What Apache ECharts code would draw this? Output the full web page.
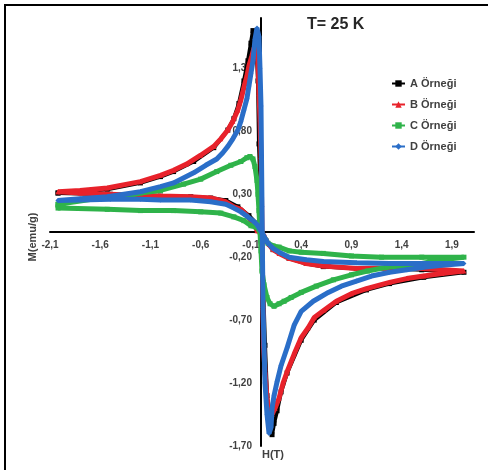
<!DOCTYPE html>
<html><head><meta charset="utf-8">
<script src="https://cdn.jsdelivr.net/npm/echarts@6/dist/echarts.min.js"></script>
<style>html,body{margin:0;padding:0;background:#fff}#c{width:488px;height:470px}</style>
</head><body><div id="c"></div>
<script>
var xTicks = [-2.1,-1.6,-1.1,-0.6,-0.1,0.4,0.9,1.4,1.9];
var yTicks = [-1.7,-1.2,-0.7,-0.2,0.3,0.8,1.3];
var seriesNames = ['A Örneği','B Örneği','C Örneği','D Örneği'];

var sampleA = [[-2.02,0.31],[-1.8,0.32],[-1.53,0.34],[-1.2,0.39],[-1.0,0.44],[-0.87,0.48],[-0.67,0.56],[-0.47,0.67],[-0.33,0.81],[-0.27,0.9],[-0.22,1.02],[-0.17,1.2],[-0.13,1.36],[-0.1,1.5],[-0.08,1.6],[-0.05,1.58],[-0.03,1.2],[-0.02,0.7],[0.0,0.2],[0.02,-0.4],[0.04,-0.9],[0.06,-1.3],[0.09,-1.55],[0.11,-1.61],[0.13,-1.52],[0.16,-1.42],[0.2,-1.27],[0.26,-1.12],[0.4,-0.86],[0.53,-0.7],[0.75,-0.56],[1.05,-0.46],[1.28,-0.41],[1.62,-0.36],[2.02,-0.32],[1.6,-0.3],[1.3,-0.29],[0.95,-0.29],[0.62,-0.275],[0.45,-0.25],[0.28,-0.21],[0.12,-0.14],[0.05,-0.07],[0.0,0.0],[-0.05,0.07],[-0.12,0.13],[-0.23,0.2],[-0.35,0.25],[-0.5,0.27],[-0.7,0.28],[-1.0,0.285],[-1.5,0.3],[-2.02,0.31]];

var sampleB = [[-2.02,0.32],[-1.8,0.33],[-1.53,0.35],[-1.2,0.4],[-1.0,0.45],[-0.87,0.49],[-0.74,0.54],[-0.6,0.61],[-0.47,0.68],[-0.4,0.74],[-0.33,0.81],[-0.28,0.88],[-0.23,0.97],[-0.2,1.05],[-0.17,1.15],[-0.14,1.24],[-0.12,1.32],[-0.09,1.4],[-0.07,1.46],[-0.05,1.47],[-0.03,1.35],[-0.02,1.1],[-0.01,0.9],[0.0,0.6],[0.005,0.3],[0.01,0.0],[0.015,-0.3],[0.02,-0.6],[0.025,-0.9],[0.04,-1.11],[0.06,-1.32],[0.08,-1.43],[0.11,-1.45],[0.14,-1.4],[0.18,-1.32],[0.22,-1.2],[0.26,-1.11],[0.33,-0.97],[0.4,-0.84],[0.47,-0.76],[0.53,-0.68],[0.63,-0.62],[0.75,-0.55],[0.9,-0.49],[1.05,-0.45],[1.28,-0.4],[1.45,-0.37],[1.62,-0.35],[1.8,-0.33],[2.02,-0.31],[1.6,-0.29],[1.3,-0.285],[0.95,-0.29],[0.62,-0.27],[0.45,-0.25],[0.28,-0.21],[0.18,-0.17],[0.12,-0.14],[0.08,-0.1],[0.05,-0.07],[0.03,-0.03],[0.0,0.0],[-0.04,0.01],[-0.06,0.06],[-0.1,0.09],[-0.15,0.14],[-0.2,0.18],[-0.27,0.2],[-0.35,0.24],[-0.5,0.27],[-0.7,0.28],[-1.0,0.285],[-1.2,0.29],[-1.5,0.3],[-1.8,0.31],[-2.02,0.32]];

var sampleC = [[-2.02,0.22],[-1.6,0.27],[-1.37,0.28],[-1.2,0.31],[-1.0,0.33],[-0.77,0.38],[-0.6,0.42],[-0.44,0.48],[-0.3,0.53],[-0.2,0.56],[-0.14,0.59],[-0.11,0.6],[-0.08,0.58],[-0.06,0.52],[-0.04,0.41],[-0.03,0.3],[-0.02,0.17],[-0.01,0.0],[0.0,-0.15],[0.01,-0.31],[0.03,-0.42],[0.06,-0.52],[0.09,-0.57],[0.13,-0.59],[0.18,-0.57],[0.23,-0.55],[0.3,-0.52],[0.4,-0.48],[0.55,-0.43],[0.72,-0.38],[0.9,-0.34],[1.06,-0.31],[1.25,-0.28],[1.4,-0.27],[1.6,-0.25],[1.8,-0.22],[2.02,-0.2],[1.6,-0.2],[1.2,-0.2],[0.9,-0.19],[0.62,-0.17],[0.4,-0.16],[0.28,-0.15],[0.18,-0.12],[0.12,-0.11],[0.07,-0.09],[0.04,-0.06],[0.01,-0.02],[-0.02,0.02],[-0.05,0.04],[-0.1,0.05],[-0.17,0.09],[-0.27,0.12],[-0.4,0.15],[-0.6,0.16],[-0.87,0.17],[-1.2,0.17],[-1.53,0.18],[-2.02,0.19],[-2.02,0.22]];

var sampleD = [[-2.02,0.25],[-1.8,0.265],[-1.53,0.28],[-1.2,0.32],[-1.0,0.36],[-0.87,0.39],[-0.67,0.47],[-0.55,0.53],[-0.44,0.58],[-0.38,0.63],[-0.33,0.68],[-0.28,0.74],[-0.23,0.81],[-0.2,0.88],[-0.17,0.97],[-0.14,1.06],[-0.12,1.16],[-0.1,1.26],[-0.08,1.36],[-0.06,1.53],[-0.04,1.62],[-0.02,1.55],[-0.01,1.3],[0.0,1.0],[0.005,0.6],[0.01,0.2],[0.015,-0.2],[0.02,-0.6],[0.03,-0.9],[0.04,-1.2],[0.06,-1.45],[0.08,-1.6],[0.1,-1.55],[0.11,-1.4],[0.13,-1.3],[0.16,-1.19],[0.2,-1.06],[0.26,-0.92],[0.33,-0.74],[0.4,-0.63],[0.52,-0.55],[0.67,-0.48],[0.8,-0.43],[0.95,-0.39],[1.1,-0.35],[1.28,-0.32],[1.45,-0.3],[1.62,-0.28],[1.8,-0.265],[2.02,-0.25],[1.6,-0.25],[1.28,-0.25],[0.95,-0.245],[0.62,-0.235],[0.45,-0.22],[0.28,-0.2],[0.18,-0.16],[0.12,-0.13],[0.07,-0.09],[0.04,-0.05],[0.02,-0.02],[-0.01,0.02],[-0.04,0.06],[-0.08,0.09],[-0.13,0.12],[-0.2,0.16],[-0.27,0.19],[-0.35,0.22],[-0.5,0.24],[-0.7,0.255],[-1.0,0.255],[-1.2,0.26],[-1.5,0.26],[-1.8,0.255],[-2.02,0.25]];

var colors = ['#000000','#e8222b','#2fb34a','#2a6ec8'];
var symbols = ['rect','triangle','rect','diamond'];
var datas = [sampleA, sampleB, sampleC, sampleD];

var X_MIN = -2.1, X_MAX = 2.12, Y_MIN = -1.7, Y_MAX = 1.7;
var G = {left:50, right:14, top:18, bottom:24};
var W = 488, H = 470;
var gw = W - G.left - G.right, gh = H - G.top - G.bottom;
// axes drawn through the origin: shift them by the pixel distance of value 0 from the grid edge
var yAxisOffset = -((0 - X_MIN) / (X_MAX - X_MIN) * gw);
var xAxisOffset = -((0 - Y_MIN) / (Y_MAX - Y_MIN) * gh);

function fmt(d){ return function(v){ return Number(v).toFixed(d).replace('.', ','); }; }

var chart = echarts.init(document.getElementById('c'), null, {renderer:'canvas'});
var labelStyle = {fontFamily:'Liberation Sans, Arial, sans-serif', fontSize:10, fontWeight:'bold', color:'#404040'};
chart.setOption({
  animation:false,
  backgroundColor:'#ffffff',
  grid:{left:G.left, right:G.right, top:G.top, bottom:G.bottom, containLabel:false},
  legend:{
    orient:'vertical', left:391, top:78, padding:0, itemWidth:13, itemHeight:8, itemGap:10,
    data:seriesNames,
    textStyle:{fontFamily:'Liberation Sans, Arial, sans-serif', fontSize:11, fontWeight:'bold', color:'#404040'}
  },
  xAxis:{
    type:'value', min:X_MIN, max:X_MAX, position:'bottom', offset:xAxisOffset,
    axisLine:{onZero:false, lineStyle:{color:'#000', width:2}},
    axisTick:{show:false}, splitLine:{show:false},
    axisLabel:Object.assign({customValues:xTicks, formatter:fmt(1), margin:8}, labelStyle)
  },
  yAxis:{
    type:'value', min:Y_MIN, max:Y_MAX, position:'left', offset:yAxisOffset,
    axisLine:{onZero:false, lineStyle:{color:'#000', width:2}},
    axisTick:{show:false}, splitLine:{show:false},
    axisLabel:Object.assign({customValues:yTicks, formatter:fmt(2), margin:9}, labelStyle)
  },
  series: datas.map(function(d,i){
    return {
      name:seriesNames[i], type:'line', data:d, smooth:false,
      symbol:symbols[i], symbolSize:5, showSymbol:true,
      itemStyle:{color:colors[i]},
      lineStyle:{color:colors[i], width:i===0?4:5},
      z:2+i
    };
  }),
  graphic:[
    {type:'rect', shape:{x:4, y:4, width:484, height:2}, style:{fill:'#000'}},
    {type:'rect', shape:{x:4, y:4, width:2, height:466}, style:{fill:'#000'}},
    {type:'text', left:307, top:17, style:{text:'T= 25 K', font:'bold 16px Liberation Sans, Arial, sans-serif', fill:'#262626'}},
    {type:'text', x:33, y:237, rotation:Math.PI/2, style:{text:'M(emu/g)', font:'bold 11px Liberation Sans, Arial, sans-serif', fill:'#404040', align:'center', verticalAlign:'middle'}},
    {type:'text', x:273, y:455, style:{text:'H(T)', font:'bold 11px Liberation Sans, Arial, sans-serif', fill:'#404040', align:'center', verticalAlign:'middle'}}
  ]
});
</script>
</body></html>
